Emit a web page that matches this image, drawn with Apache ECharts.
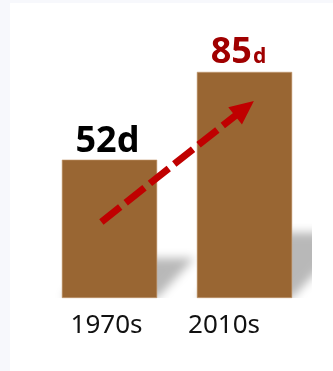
<!DOCTYPE html>
<html>
<head>
<meta charset="utf-8">
<script src="https://cdn.jsdelivr.net/npm/echarts@6/dist/echarts.min.js"></script>
<style>
  html, body { margin: 0; padding: 0; background: #f7f8fc; }
  #panel { position: absolute; left: 10px; top: 3px; width: 323px; height: 368px; background: #ffffff; }
  #chart { position: absolute; left: 0; top: 0; width: 333px; height: 371px; }
</style>
</head>
<body>
<div id="panel"></div>
<div id="chart"></div>
<script>
// Average number of days, by decade
const decades = ['1970s', '2010s'];
const days = [52, 85];
const unitSuffix = 'd';
const labelColors = ['#000000', '#a00000'];
const suffixSizes = [36, 21];

// Trend arrow endpoints in [category position, value] space
const arrowFrom = [-0.06, 28.6];
const arrowTo = [1.0, 71.3];

const BAR_COLOR = '#996633';
const ARROW_COLOR = '#c00000';

const chart = echarts.init(document.getElementById('chart'), null, { renderer: 'canvas' });

const barData = days.map((v, i) => ({
  value: v,
  label: {
    offset: i === 0 ? [-2, 0] : [-6, -1],
    rich: {
      v: { fontSize: 36, fontWeight: 'bold', color: labelColors[i], fontFamily: 'Noto Sans', lineHeight: 40, verticalAlign: 'bottom' },
      u: { fontSize: suffixSizes[i], fontWeight: 'bold', color: labelColors[i], fontFamily: 'Noto Sans', lineHeight: 40, verticalAlign: 'bottom', padding: i === 0 ? 0 : [0, 0, 3, 1] }
    }
  }
}));

const option = {
  animation: false,
  grid: { left: 42, right: 21, top: 32, bottom: 73, containLabel: false },
  xAxis: [
    {
      type: 'category',
      data: decades,
      axisLine: { show: false },
      axisTick: { show: false },
      axisLabel: {
        margin: 15,
        formatter: (val, idx) => (idx === 0 ? '{a|' + val + '}' : '{b|' + val + '}'),
        rich: {
          a: { fontSize: 26, color: '#111111', fontFamily: 'Noto Sans', padding: [0, 6, 0, 0] },
          b: { fontSize: 26, color: '#111111', fontFamily: 'Noto Sans', padding: [0, 41, 0, 0] }
        }
      }
    },
    { type: 'value', min: -0.5, max: 1.5, show: false }
  ],
  yAxis: { type: 'value', min: 0, max: 100, show: false },
  series: [
    {
      // soft floor shadow cast behind each bar
      type: 'custom',
      xAxisIndex: 0,
      clip: true,
      z: 1,
      silent: true,
      data: days.map((v, i) => [i, v]),
      renderItem: (params, api) => {
        const top = api.coord([api.value(0), api.value(1)]);
        const base = api.coord([api.value(0), 0]);
        const band = api.size([1, 0])[0];
        const w = band * 0.706;
        const h = base[1] - top[1];
        const x0 = base[0] - w / 2, x1 = base[0] + w / 2, y = base[1];
        const sh = h * 0.29, skew = h * 0.27;
        const far = 2000;
        return {
          type: 'polygon',
          shape: { points: [[x0 - far, y], [x1 - far, y], [x1 + skew - far, y - sh], [x0 + skew - far, y - sh]] },
          style: { fill: '#000', shadowBlur: 10, shadowColor: 'rgba(0,0,0,0.28)', shadowOffsetX: far, shadowOffsetY: 0 }
        };
      }
    },
    {
      type: 'bar',
      z: 2,
      data: barData,
      barWidth: '70.6%',
      itemStyle: { color: BAR_COLOR, borderColor: '#c49a70', borderWidth: 0.6 },
      label: {
        show: true,
        position: 'top',
        distance: 0,
        formatter: p => '{v|' + p.value + '}{u|' + unitSuffix + '}'
      }
    },
    {
      type: 'line',
      xAxisIndex: 1,
      z: 5,
      data: [],
      markLine: {
        silent: true,
        symbol: ['none', 'triangle'],
        symbolSize: [22, 24],
        label: { show: false },
        lineStyle: { color: ARROW_COLOR, width: 7, type: [24, 7], opacity: 1 },
        itemStyle: { color: ARROW_COLOR },
        data: [[{ coord: arrowFrom }, { coord: arrowTo }]]
      }
    }
  ]
};

chart.setOption(option);
</script>
</body>
</html>
